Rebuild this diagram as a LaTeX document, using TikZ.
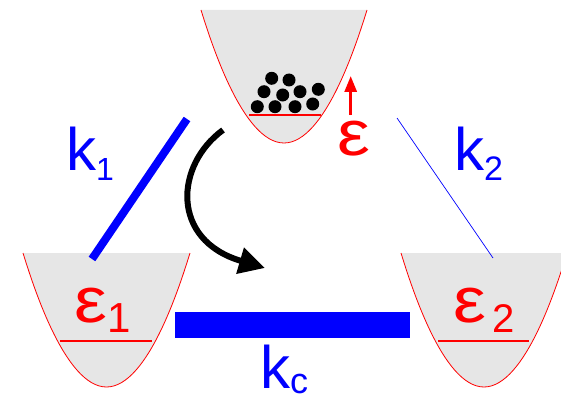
\documentclass[tikz,border=0pt]{standalone}
\usepackage{fontspec}
\setmainfont{Liberation Sans}
\usetikzlibrary{arrows.meta}
\definecolor{wellgray}{RGB}{230,230,230}
\definecolor{pblue}{RGB}{0,0,255}
\definecolor{pred}{RGB}{255,0,0}
\newcommand\subtxt[3]{{\fontsize{#1}{#1}\selectfont\raisebox{#2}{#3}}}
\newcommand\wideeps{\scalebox{1.15}[1]{ε}}
\tikzset{
  wellfill/.style={fill=wellgray},
  welledge/.style={draw=pred, line width=0.8pt},
  level/.style={draw=pred, line width=1.6pt},
  ball/.style={circle, fill=black, minimum size=13pt, inner sep=0pt},
  klabel/.style={text=pblue, font=\fontsize{60}{60}\selectfont, anchor=base west, inner sep=0pt},
  elabel/.style={text=pred, font=\fontsize{64}{64}\selectfont, anchor=base west, inner sep=0pt},
  thickrate/.style={draw=pblue, line width=8pt},
  thinrate/.style={draw=pblue, line width=0.7pt},
}
\begin{document}
\begin{tikzpicture}[x=1pt,y=-1pt]
\useasboundingbox (0,0) rectangle (561,401);
\clip (0,0) rectangle (561,401);
% top well
\fill[wellfill] (201,10) parabola bend (284,143) (367,10) -- cycle;
\draw[welledge] (201,10) parabola bend (284,143) (367,10);
\draw[level] (249,115) -- (321,115);
% left well
\fill[wellfill] (23,253) parabola bend (106.5,387) (190,253) -- cycle;
\draw[welledge] (23,253) parabola bend (106.5,387) (190,253);
\draw[level] (60,341) -- (152,341);
% right well
\fill[wellfill] (401,253) parabola bend (484,387) (567,253) -- cycle;
\draw[welledge] (401,253) parabola bend (484,387) (567,253);
\draw[level] (438,341) -- (529,341);
% balls
\foreach \bx/\by [count=\i] in {257.3/106.7, 275/106.7, 295/106.7, 312.7/104,
   264/91.7, 282.7/95, 300/91.7, 318.3/89.3, 271.7/78.3, 289/80}
  \node[ball] (b\i) at (\bx,\by) {};
% red energy arrow
\coordinate (ea) at (350.7,115);
\coordinate (eb) at (350.7,76);
\draw[draw=pred, fill=pred, line width=3pt, -{Triangle[length=16pt,width=12pt]}] (ea) -- (eb);
\node[elabel] (eps) at (337,155) {\wideeps};
\node[elabel] (eps1) at (74,322) {\wideeps\subtxt{42}{-10pt}{1}};
\node[elabel] (eps2) at (453,322) {\wideeps\subtxt{40}{-10pt}{\,2}};
% rate lines
\coordinate (k1a) at (92,259);
\coordinate (k1b) at (187,119);
\draw[thickrate] (k1a) -- (k1b);
\coordinate (k2a) at (397,118);
\coordinate (k2b) at (493,258);
\draw[thinrate] (k2a) -- (k2b);
\node[draw=none, fill=pblue, minimum width=235pt, minimum height=26pt, inner sep=0pt] (kcbar) at (292.5,324.5) {};
\node[klabel] (k1) at (66,170) {k\subtxt{32}{-10pt}{1}};
\node[klabel] (k2) at (454,170) {k\subtxt{34}{-10pt}{2}};
\node[klabel] (kc) at (260,388) {k\subtxt{36}{-5pt}{c}};
% black curved arrow
\coordinate (ca) at (223,130);
\coordinate (cb) at (265,268);
\draw[line width=6pt, -{Triangle[length=26pt,width=26pt]}] (ca) .. controls (175,165) and (170,240) .. (cb);
\end{tikzpicture}
\end{document}
